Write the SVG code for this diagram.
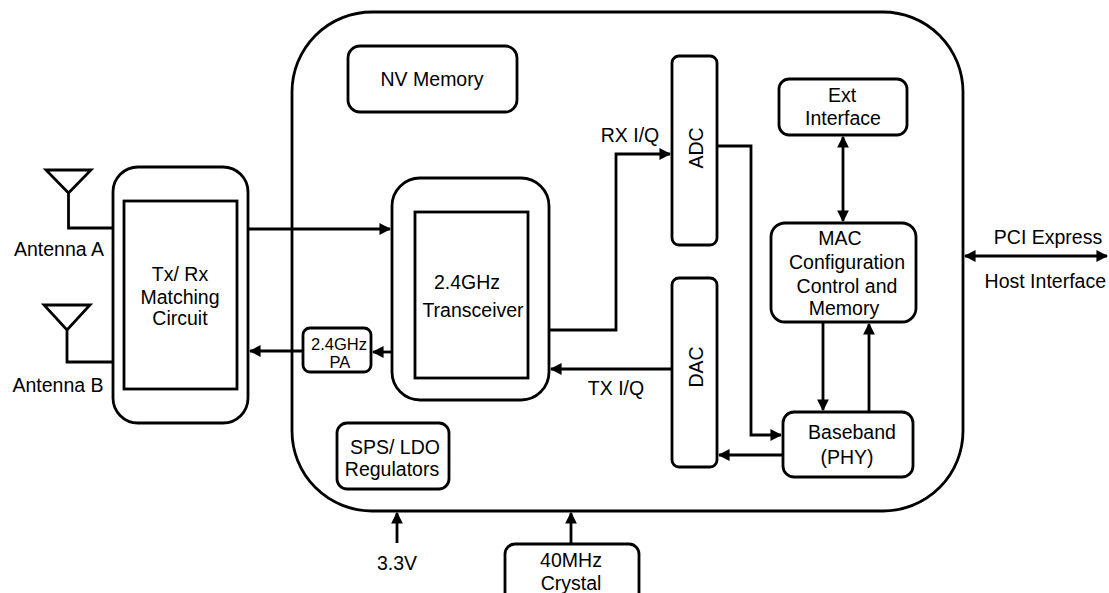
<svg xmlns="http://www.w3.org/2000/svg" width="1109" height="593" viewBox="0 0 1109 593">
<style>
.b{fill:#fff;stroke:#000;stroke-width:2.8}
.n{fill:none;stroke:#000;stroke-width:2.8}
.c{fill:none;stroke:#000;stroke-width:2.8}
text{font-family:"Liberation Sans",Arial,sans-serif;font-size:19.5px;fill:#000;text-anchor:middle}
.s{font-size:16.5px}
</style>
<defs>
<marker id="a" viewBox="0 0 10 10" refX="9" refY="5" markerWidth="4.2" markerHeight="4.2" orient="auto-start-reverse" markerUnits="strokeWidth">
<path d="M0,0 L10,5 L0,10 z" fill="#000"/>
</marker>
</defs>
<rect width="1109" height="593" fill="#fff"/>
<g id="chip"><rect class="b" x="292" y="12" width="671" height="499" rx="80"/></g>
<g id="antennaA"><path class="n" d="M46,170 L91,170 L68.5,193 Z M68.5,193 L68.5,228 L113,228"/><text x="59" y="256">Antenna A</text></g>
<g id="antennaB"><path class="n" d="M44,305 L90,305 L67,330 Z M67,330 L67,362 L113,362"/><text x="58" y="392">Antenna B</text></g>
<g id="txrx"><rect class="b" x="113" y="167" width="135" height="256" rx="25"/><rect class="b" x="124" y="201" width="113" height="188"/>
<text x="180" y="281">Tx/ Rx</text><text x="180" y="304">Matching</text><text x="180" y="325">Circuit</text></g>
<g id="pa"><rect class="b" x="303" y="328" width="68" height="44" rx="7"/><text class="s" x="339" y="350">2.4GHz</text><text class="s" x="340" y="368">PA</text></g>
<g id="transceiver"><rect class="b" x="392" y="178" width="157" height="222" rx="28"/><rect class="b" x="415" y="212" width="113" height="166"/>
<text x="467" y="289">2.4GHz</text><text x="473" y="317">Transceiver</text></g>
<g id="nvmem"><rect class="b" x="348" y="46" width="169" height="66" rx="12"/><text x="432" y="86">NV Memory</text></g>
<g id="sps"><rect class="b" x="337" y="423" width="112" height="66" rx="10"/><text x="395" y="454">SPS/ LDO</text><text x="392" y="476">Regulators</text></g>
<g id="adc"><rect class="b" x="672" y="56" width="45" height="189" rx="7"/><text transform="translate(703,148) rotate(-90)">ADC</text></g>
<g id="dac"><rect class="b" x="672" y="278" width="45" height="189" rx="7"/><text transform="translate(703,367) rotate(-90)">DAC</text></g>
<g id="ext"><rect class="b" x="779" y="79" width="128" height="56" rx="10"/><text x="842" y="102">Ext</text><text x="843" y="125">Interface</text></g>
<g id="mac"><rect class="b" x="771" y="223" width="145" height="99" rx="14"/>
<text x="840" y="245">MAC</text><text x="847" y="269">Configuration</text><text x="847" y="293">Control and</text><text x="844" y="315">Memory</text></g>
<g id="baseband"><rect class="b" x="783" y="412" width="130" height="65" rx="11"/><text x="852" y="439">Baseband</text><text x="847" y="464">(PHY)</text></g>
<g id="crystal"><rect class="b" x="505" y="544" width="134" height="60" rx="10"/><text x="571" y="567">40MHz</text><text x="571" y="590">Crystal</text></g>
<g id="labels">
<text x="630" y="142">RX I/Q</text>
<text x="616" y="395">TX I/Q</text>
<text x="397" y="570">3.3V</text>
<text x="1048" y="244">PCI Express</text>
<text x="1106" y="288" style="text-anchor:end">Host Interface</text>
</g>
<g id="connectors">
<path class="c" d="M248,229 L390,229" marker-end="url(#a)"/>
<path class="c" d="M303,351 L250,351" marker-end="url(#a)"/>
<path class="c" d="M392,352 L373,352" marker-end="url(#a)"/>
<path class="c" d="M549,330 L616,330 L616,154 L670,154" marker-end="url(#a)"/>
<path class="c" d="M672,369 L551,369" marker-end="url(#a)"/>
<path class="c" d="M717,146 L751,146 L751,435 L781,435" marker-end="url(#a)"/>
<path class="c" d="M783,455 L719,455" marker-end="url(#a)"/>
<path class="c" d="M823,322 L823,410" marker-end="url(#a)"/>
<path class="c" d="M869,412 L869,324" marker-end="url(#a)"/>
<path class="c" d="M843,137 L843,221" marker-start="url(#a)" marker-end="url(#a)"/>
<path class="c" d="M965,256 L1107,256" marker-start="url(#a)" marker-end="url(#a)"/>
<path class="c" d="M397,543 L397,513" marker-end="url(#a)"/>
<path class="c" d="M571,544 L571,513" marker-end="url(#a)"/>
</g>
</svg>
